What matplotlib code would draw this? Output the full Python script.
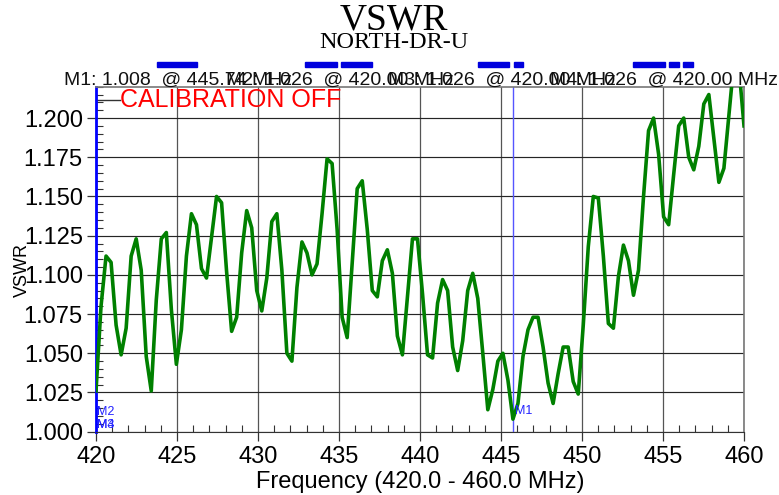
import matplotlib
matplotlib.use('Agg')
import matplotlib.pyplot as plt
import matplotlib.transforms as mtransforms
from matplotlib.patches import Rectangle
from matplotlib.ticker import MultipleLocator
import numpy as np

# sweep: 130 points from 420 to 460 MHz
freq_start = 420.0
freq_stop = 460.0
n_points = 130

vswr = [1.026, 1.080, 1.112, 1.108, 1.068, 1.049, 1.066, 1.112, 1.123, 1.103,
        1.048, 1.026, 1.084, 1.123, 1.127, 1.078, 1.043, 1.065, 1.112, 1.139,
        1.132, 1.104, 1.098, 1.124, 1.150, 1.146, 1.102, 1.064, 1.073, 1.114,
        1.141, 1.130, 1.090, 1.077, 1.098, 1.134, 1.139, 1.103, 1.050, 1.045,
        1.092, 1.121, 1.114, 1.100, 1.107, 1.139, 1.174, 1.171, 1.129, 1.073,
        1.060, 1.107, 1.155, 1.160, 1.129, 1.090, 1.086, 1.109, 1.116, 1.101,
        1.061, 1.049, 1.086, 1.123, 1.123, 1.088, 1.049, 1.047, 1.082, 1.097,
        1.090, 1.054, 1.039, 1.058, 1.090, 1.101, 1.085, 1.050, 1.014, 1.027,
        1.045, 1.050, 1.033, 1.008, 1.018, 1.048, 1.065, 1.073, 1.073, 1.054,
        1.031, 1.018, 1.037, 1.054, 1.054, 1.032, 1.024, 1.068, 1.118, 1.150,
        1.149, 1.112, 1.069, 1.066, 1.099, 1.119, 1.109, 1.087, 1.103, 1.150,
        1.192, 1.200, 1.177, 1.137, 1.132, 1.164, 1.195, 1.200, 1.175, 1.167,
        1.182, 1.209, 1.215, 1.187, 1.159, 1.168, 1.202, 1.236, 1.232, 1.195]

freq = np.linspace(freq_start, freq_stop, n_points)

# markers
marker_names = ['M1', 'M2', 'M3', 'M4']
marker_vals = [1.008, 1.026, 1.026, 1.026]
marker_freqs = [445.74, 420.00, 420.00, 420.00]

# blue highlight bars above the marker readout (MHz spans)
bar_spans = [(423.75, 426.22), (432.90, 434.86), (435.12, 437.02), (443.60, 445.51),
             (445.80, 446.38), (453.17, 455.12), (455.38, 456.00), (456.21, 456.83)]

plt.rcParams['font.family'] = ['Liberation Sans', 'DejaVu Sans']

W, H = 779, 495
fig = plt.figure(figsize=(W / 100, H / 100), dpi=100)
ax = fig.add_axes([96 / W, 1 - 431.7 / H, 648 / W, 345 / H])

ax.set_xlim(freq_start, freq_stop)
ax.set_ylim(1.0, 1.22)

ax.xaxis.set_major_locator(MultipleLocator(5))
ax.xaxis.set_minor_locator(MultipleLocator(1))
ax.yaxis.set_major_locator(MultipleLocator(0.025))
ax.yaxis.set_minor_locator(MultipleLocator(0.005))
ax.yaxis.set_major_formatter(matplotlib.ticker.FormatStrFormatter('%.3f'))

ax.grid(axis='y', which='major', color='#252525', lw=0.85)
ax.grid(axis='x', which='major', color='#555555', lw=0.9)
ax.set_axisbelow(True)

ax.tick_params(which='major', direction='out', length=6.5, width=0.9,
               color='#333333', labelsize=17, pad=3)
ax.tick_params(axis='x', which='major', pad=4)
ax.tick_params(which='minor', direction='in', length=5, width=0.8, color='#333333')
ax.tick_params(axis='x', which='minor', top=False)
ax.tick_params(axis='y', which='minor', right=False)

for s in ['top', 'right']:
    ax.spines[s].set_color('#777777')
    ax.spines[s].set_linewidth(1.2)
ax.spines['bottom'].set_color('#333333')
ax.spines['left'].set_color('#0000ff')
ax.spines['left'].set_linewidth(2)

# trace
ax.plot(freq, vswr, color='#008000', lw=2.6, zorder=3)

# marker lines and labels
ax.axvline(marker_freqs[0], color='#5555ff', lw=1.0, zorder=2)
ax.text(marker_freqs[0] + 0.1, 1.0135, marker_names[0], color='#2222ff',
        fontsize=9, va='center', ha='left')
ax.text(freq_start + 0.05, 1.0125, marker_names[1], color='#2222ff',
        fontsize=9, va='center', ha='left')
for name in marker_names[2:]:
    ax.text(freq_start + 0.05, 1.0045, name, color='#2222ff',
            fontsize=9, va='center', ha='left')

# calibration notice with small legend line
ax.plot([0.0, 0.037], [0.962, 0.962], transform=ax.transAxes,
        color='#333333', lw=1, clip_on=False)
ax.text(0.037, 0.962, 'CALIBRATION OFF', transform=ax.transAxes,
        color='#ff0000', fontsize=18, va='center', ha='left')

# marker readout line
for k in range(len(marker_names)):
    label = f'{marker_names[k]}: {marker_vals[k]:.3f}  @ {marker_freqs[k]:.2f} MHz'
    fig.text((64 + 162 * k) / W, 1 - 85 / H, label, fontsize=14,
             ha='left', va='baseline', color='#111111')

# blue highlight bars
trans = mtransforms.blended_transform_factory(ax.transData, ax.transAxes)
for x0, x1 in bar_spans:
    ax.add_patch(Rectangle((x0, 1.058), x1 - x0, 0.0145, transform=trans,
                           color='#0000dd', clip_on=False))

ax.set_xlabel('Frequency (420.0 - 460.0 MHz)', fontsize=17, labelpad=2)
ax.set_ylabel('VSWR', fontsize=13)
ax.yaxis.set_label_coords(-0.1, 0.47)

fig.text(0.505, 1 - 29 / H, 'VSWR', family='Liberation Serif', fontsize=27,
         ha='center', va='baseline')
fig.text(0.505, 1 - 48 / H, 'NORTH-DR-U', family='Liberation Serif', fontsize=17.5,
         ha='center', va='baseline')

fig.savefig('out.png', dpi=100)
